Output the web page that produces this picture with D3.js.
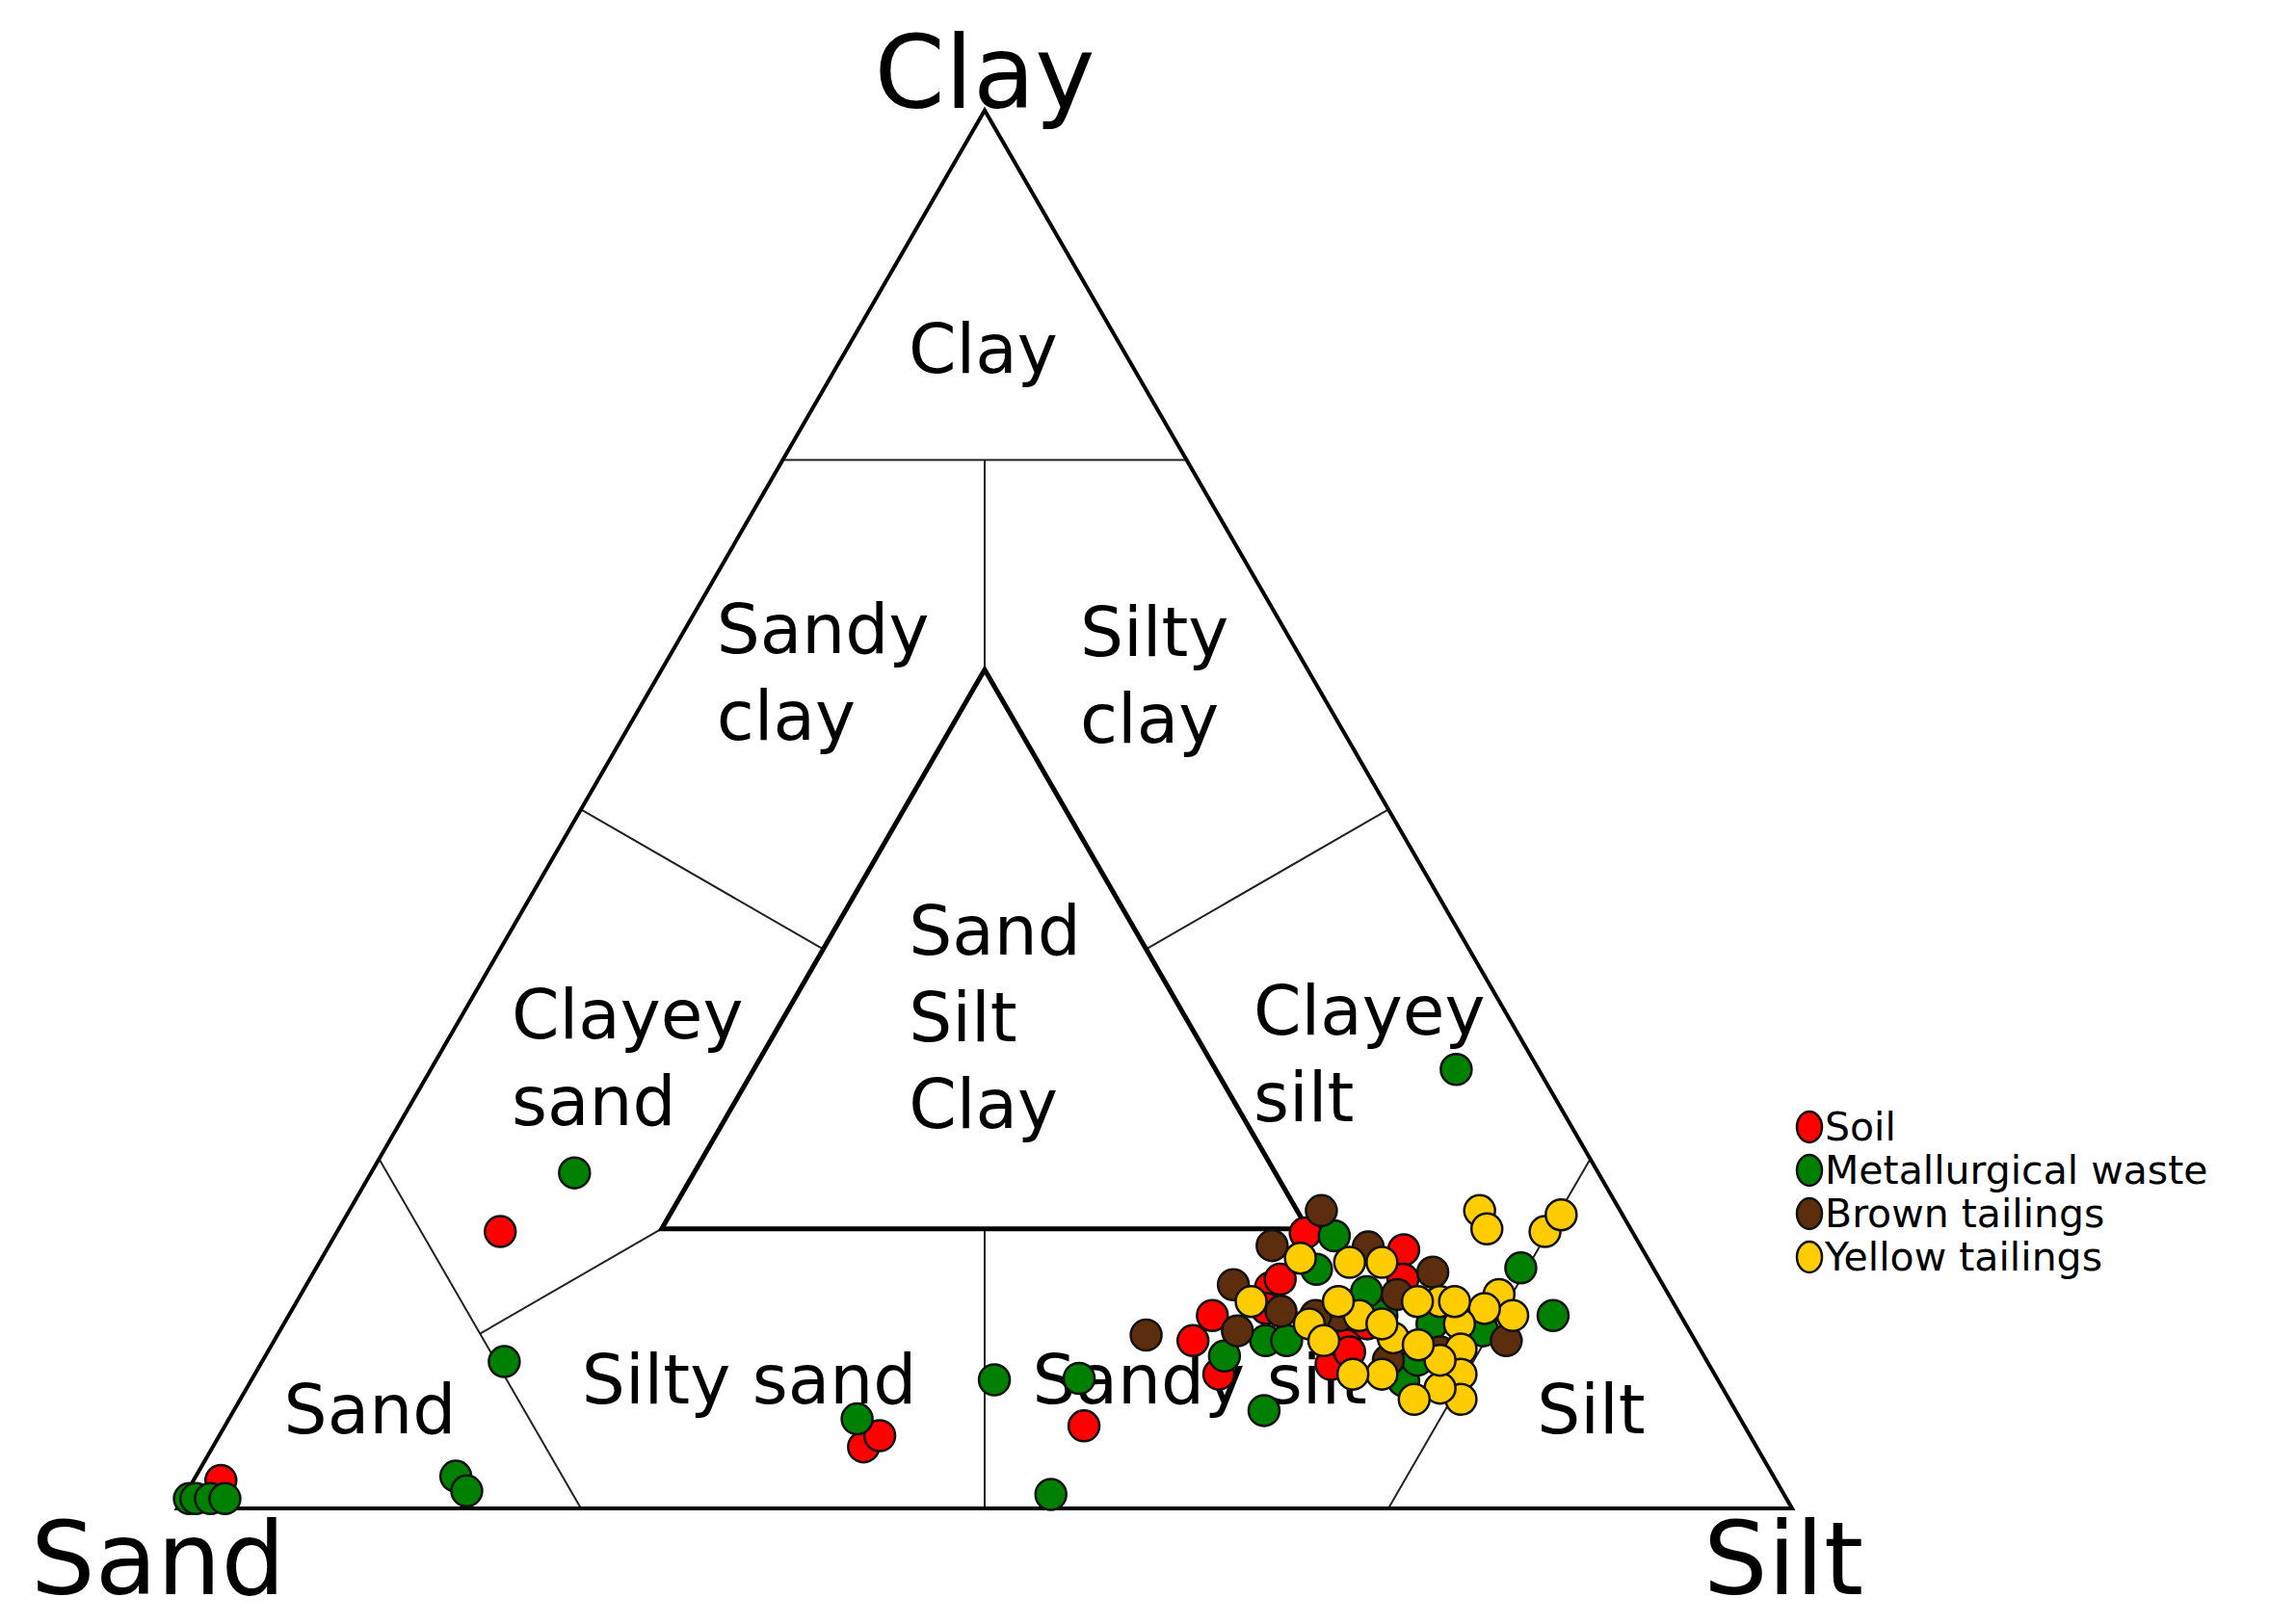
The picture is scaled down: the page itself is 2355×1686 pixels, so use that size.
<!DOCTYPE html>
<html>
<head>
<meta charset="utf-8">
<script src="https://cdn.jsdelivr.net/npm/d3@7"></script>
<style>
  body { margin: 0; background: #fff; }
  text { font-family: "DejaVu Sans", Verdana, sans-serif; fill: #000; }
</style>
</head>
<body>
<div id="chart"></div>
<script>
// samples as [silt %, clay %]; sand is the rest
const soil = [[1.7,2],[10.1,19.8],[40.3,4.4],[40.9,5.2],[53.2,5.9],[56.9,12],[57.2,13.8],[59.7,9.6],
  [59.8,15.8],[60.1,16.4],[60,19.7],[66.7,18.5],[66.3,10.3],[67.1,13.2],[67.7,16.4],[66.5,11.7],[60.3,14.3],[67,11.2]];
const metallurgical = [[0.4,0.7],[0.8,0.7],[1.7,0.7],[2.6,0.7],[16.1,2.3],[17.3,1.25],[12.6,24],[15,10.5],
  [38.9,6.4],[46,9.2],[51.2,9.3],[53.6,1],[63.8,7],[63.5,31.4],[78.3,13.8],[74.6,17.2],[61.9,19.5],[62,17.1],
  [61.4,12],[62.7,12],[59.4,10.9],[67.7,13.8],[71.4,9.1],[71.1,13.2],[74.5,12.7],[65.9,15.5],[71.5,10.6]];
const brown = [[53.8,12.4],[60.2,21.3],[58.4,18.8],[57.4,16],[65.1,13.8],[64.4,18.7],[69.3,16.9],[67.9,15.3],
  [61.3,14.1],[59.3,12.7],[76.3,12],[72.6,11.2],[69.7,10.6],[63.6,13.8]];
const yellow = [[70,21.3],[71.1,20],[74.8,19.8],[75.2,21],[74.2,15.3],[75.8,13.8],[73.8,14.3],[72.8,13.2],
  [73.8,11.4],[74.7,9.6],[75.6,7.8],[73.9,8.6],[72.7,7.8],[69.8,9.6],[68,9.6],[69.2,12.2],[66.3,13.8],
  [64.5,14.8],[63.5,13.2],[60.6,17.9],[63.8,17.6],[65.8,17.6],[59.1,14.8],[65,12],[70.8,14.8],[69.4,14.8],
  [71.7,14.8],[68,13.2],[72.9,10.6],[71,11.7]];

const seriesNames = ['Soil', 'Metallurgical waste', 'Brown tailings', 'Yellow tailings'];
const seriesColors = ['#ff0000', '#008000', '#5c2e0e', '#ffcc00'];
const seriesData = [soil, metallurgical, brown, yellow];

// class boundaries as [silt, clay] pairs
const thinLines = [
  [[0, 75], [25, 75]],
  [[12.5, 75], [20, 60]],
  [[0, 50], [20, 40]],
  [[50, 50], [40, 40]],
  [[0, 25], [25, 0]],
  [[12.5, 12.5], [20, 20]],
  [[40, 20], [50, 0]],
  [[75, 25], [75, 0]],
  [[75, 12.5], [60, 20]]
];
const innerTriangle = [[20, 60], [20, 20], [60, 20]];
const classLabels = [
  { lines: ['Clay'], silt: 9.3, clay: 81.2, anchor: 'middle' },
  { lines: ['Sandy', 'clay'], silt: 2.8, clay: 61.2, anchor: 'start' },
  { lines: ['Silty', 'clay'], silt: 25.4, clay: 61, anchor: 'start' },
  { lines: ['Clayey', 'sand'], silt: 3.9, clay: 33.6, anchor: 'start' },
  { lines: ['Sand', 'Silt', 'Clay'], silt: 25.5, clay: 39.6, anchor: 'start' },
  { lines: ['Clayey', 'silt'], silt: 49.7, clay: 33.9, anchor: 'start' },
  { lines: ['Sand'], silt: 3.9, clay: 5.4, anchor: 'start' },
  { lines: ['Silty sand'], silt: 21.3, clay: 7.5, anchor: 'start' },
  { lines: ['Sandy silt'], silt: 49.2, clay: 7.5, anchor: 'start' },
  { lines: ['Silt'], silt: 81.5, clay: 5.4, anchor: 'start' }
];

const W = 2355, H = 1686;
const x0 = 184, x1 = 1860, base = 1566;
const side = x1 - x0;
const xs = d3.scaleLinear().domain([0, 100]).range([x0, x1]);
const ys = d3.scaleLinear().domain([0, 100]).range([base, base - side * Math.sqrt(3) / 2]);
const px = d => xs(d[0] + d[1] / 2);
const py = d => ys(d[1]);

const svg = d3.select('#chart').append('svg').attr('width', W).attr('height', H);

const line = d3.line().x(px).y(py);

thinLines.forEach(l => {
  svg.append('path').attr('d', line(l)).attr('fill', 'none').attr('stroke', '#222').attr('stroke-width', 2);
});
svg.append('path').attr('d', line(innerTriangle) + 'Z').attr('fill', 'none')
  .attr('stroke', '#000').attr('stroke-width', 5);
svg.append('path').attr('d', line([[0, 0], [100, 0], [0, 100]]) + 'Z').attr('fill', 'none')
  .attr('stroke', '#000').attr('stroke-width', 4).attr('stroke-linejoin', 'miter');

classLabels.forEach(c => {
  const t = svg.append('text').attr('font-size', 71).attr('text-anchor', c.anchor)
    .attr('x', px([c.silt, c.clay])).attr('y', py([c.silt, c.clay]));
  c.lines.forEach((s, i) => {
    t.append('tspan').attr('x', px([c.silt, c.clay])).attr('dy', i ? 90 : 0).text(s);
  });
});

// vertex labels
svg.append('text').attr('font-size', 105).attr('text-anchor', 'middle')
  .attr('x', px([0, 100])).attr('y', 112).text('Clay');
svg.append('text').attr('font-size', 105).attr('x', 32).attr('y', 1655).text('Sand');
svg.append('text').attr('font-size', 105).attr('x', 1768).attr('y', 1655).text('Silt');

seriesData.forEach((data, i) => {
  svg.append('g').selectAll('circle').data(data).join('circle')
    .attr('cx', px).attr('cy', py).attr('r', 16)
    .attr('fill', seriesColors[i]).attr('stroke', '#111').attr('stroke-width', 2.5);
});

const legend = svg.append('g').attr('transform', 'translate(1878,1170)');
seriesNames.forEach((n, i) => {
  const g = legend.append('g').attr('transform', `translate(0,${i * 45})`);
  g.append('ellipse').attr('rx', 13).attr('ry', 16).attr('fill', seriesColors[i])
    .attr('stroke', '#111').attr('stroke-width', 2.5);
  g.append('text').attr('x', 16).attr('y', 14).attr('font-size', 41).attr('fill', '#222').text(n);
});
</script>
</body>
</html>
